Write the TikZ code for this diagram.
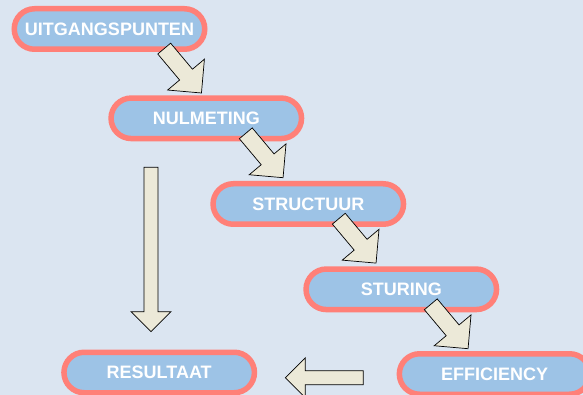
\documentclass[tikz,border=0pt]{standalone}
\usepackage{fontspec}
\setmainfont{Liberation Sans}
\usetikzlibrary{shapes.misc,calc}

\definecolor{bgblue}{RGB}{219,229,241}
\definecolor{boxblue}{RGB}{157,195,230}
\definecolor{boxrim}{RGB}{255,128,120}
\definecolor{arrowtan}{RGB}{236,233,216}

\tikzset{
  stage/.style={rounded rectangle, draw=boxrim, line width=5.5pt, fill=boxblue,
    minimum width=190.5pt, minimum height=40.5pt, inner sep=0pt, text=white,
    font=\bfseries\fontsize{18}{18}\selectfont},
  blockarrow/.style={draw=black, fill=arrowtan, line width=0.7pt, line join=miter},
}

% block arrow: #1 tail point, #2 angle, #3 length, #4 scale
\newcommand{\blockarrow}[4]{%
  \draw[blockarrow, shift={#1}, rotate=#2, scale=#4]
    (0,-7) -- ({#3-20},-7) -- ({#3-20},-20) -- (#3,0) -- ({#3-20},20) -- ({#3-20},7) -- (0,7) -- cycle;}

\begin{document}
\begin{tikzpicture}[x=1pt, y=-1pt]
  \clip (0,0) rectangle (583,395);
  \fill[bgblue] (0,0) rectangle (583,395);

  \node[stage] (uit) at (109.5,29) {UITGANGSPUNTEN};
  \node[stage] (nul) at (206.3,118.3) {NULMETING};
  \node[stage] (struc) at (308.3,204) {STRUCTUUR};
  \node[stage] (stur) at (401.3,289.3) {STURING};
  \node[stage] (eff) at (494.6,374) {EFFICIENCY};
  \node[stage] (res) at (159.2,372.5) {RESULTAAT};

  % steps down the staircase
  \blockarrow{($(uit)+(54.7,19.6)$)}{-50}{48.3}{1.2}
  \blockarrow{($(nul)+(39.5,15)$)}{-50}{48.3}{1.2}
  \blockarrow{($(struc)+(30.5,14.7)$)}{-50}{48.3}{1.2}
  \blockarrow{($(stur)+(29.5,15)$)}{-50}{48.3}{1.2}
  % back to the result
  \blockarrow{($(nul)+(-55.3,49)$)}{-90}{164.4}{1}
  \blockarrow{($(eff)+(-131.3,3.7)$)}{180}{78}{1}
\end{tikzpicture}
\end{document}
